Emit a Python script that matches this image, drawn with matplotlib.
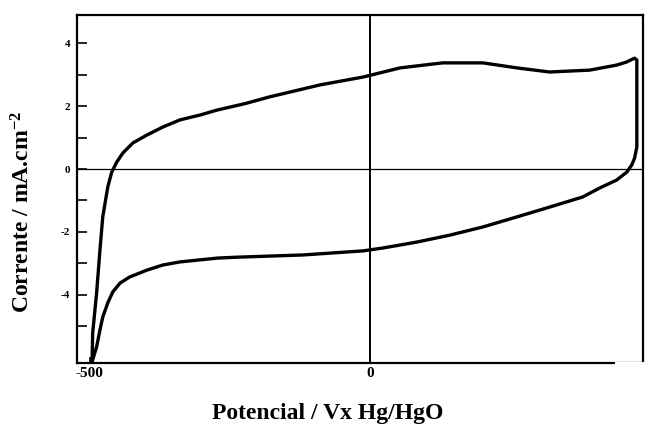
import numpy as np
import matplotlib
matplotlib.use("Agg")
import matplotlib.pyplot as plt
from matplotlib.patches import Rectangle

# =========================
# DATA
# =========================
# anodic sweep, from the cathodic limit up to the anodic limit (mV, mA/cm2)
E_anodic = [-496, -495, -488, -482, -477, -468, -461, -452, -441, -423, -398, -370,
            -339, -304, -273, -222, -179, -134, -89, -12, 54, 130, 202, 263, 321,
            393, 441, 459, 473, 477, 477, 477, 477, 473, 468]
I_anodic = [-6.10, -5.21, -3.94, -2.57, -1.52, -0.57, -0.10, 0.22, 0.51, 0.83, 1.08, 1.33,
            1.56, 1.71, 1.87, 2.08, 2.29, 2.48, 2.67, 2.92, 3.21, 3.37, 3.37, 3.21, 3.08,
            3.14, 3.30, 3.40, 3.52, 3.46, 2.51, 1.46, 0.70, 0.35, 0.13]

# cathodic sweep, back down to the cathodic limit
E_cathodic = [468, 459, 441, 411, 380, 321, 263, 202, 143, 84, 23, -12, -120, -237,
              -273, -339, -370, -398, -429, -446, -459, -468, -477, -482, -488, -495, -496]
I_cathodic = [0.13, -0.10, -0.35, -0.60, -0.89, -1.21, -1.52, -1.84, -2.10, -2.32, -2.51,
              -2.60, -2.73, -2.80, -2.83, -2.95, -3.05, -3.21, -3.43, -3.62, -3.90, -4.25,
              -4.70, -5.11, -5.65, -6.06, -6.10]

y_ticks = [-5, -4, -3, -2, -1, 0, 1, 2, 3, 4]
y_labels = ["", "-4", "", "-2", "", "0", "", "2", "", "4"]
x_ticks = [-500, 0]
x_labels = ["-500", "0"]

# =========================
# FIGURE
# =========================
plt.rcParams["font.family"] = ["Liberation Serif", "DejaVu Serif"]
plt.rcParams["mathtext.fontset"] = "custom"
plt.rcParams["mathtext.rm"] = "Liberation Serif:bold"
plt.rcParams["mathtext.default"] = "rm"

fig = plt.figure(figsize=(6.55, 4.26), dpi=100)
ax = fig.add_axes([77 / 655, 1 - 363 / 426, 566 / 655, 348 / 426])

E = E_anodic + E_cathodic[1:]
I = I_anodic + I_cathodic[1:]
ax.plot(E, I, color="black", lw=2.4, solid_joinstyle="round", zorder=3)

ax.axhline(0, color="black", lw=0.9, zorder=2)
ax.axvline(0, color="black", lw=1.4, zorder=2)

ax.set_xlim(-523, 488)
ax.set_ylim(-6.16, 4.89)

ax.set_yticks(y_ticks)
ax.set_yticklabels(y_labels, fontsize=8, fontweight="bold")
ax.set_xticks(x_ticks)
ax.set_xticklabels(x_labels, fontsize=11, fontweight="bold")
ax.tick_params(axis="y", direction="in", length=7, width=1.2, pad=5)
ax.tick_params(axis="x", direction="in", length=4, width=1.2, pad=3)

for s in ax.spines.values():
    s.set_linewidth(1.6)

fig.text(23 / 655, 1 - 212 / 426, "Corrente / mA.cm$^{-2}$", rotation=90,
         ha="center", va="center", fontsize=17, fontweight="bold")
fig.text(328 / 655, 1 - 413 / 426, "Potencial / Vx Hg/HgO",
         ha="center", va="center", fontsize=17, fontweight="bold")

# white patch over the bottom-right corner, as in the scan
fig.add_artist(Rectangle((615 / 655, 0), 40 / 655, 64.5 / 426, transform=fig.transFigure,
                         facecolor="white", edgecolor="none", zorder=10))

fig.savefig("out.png", dpi=100)
